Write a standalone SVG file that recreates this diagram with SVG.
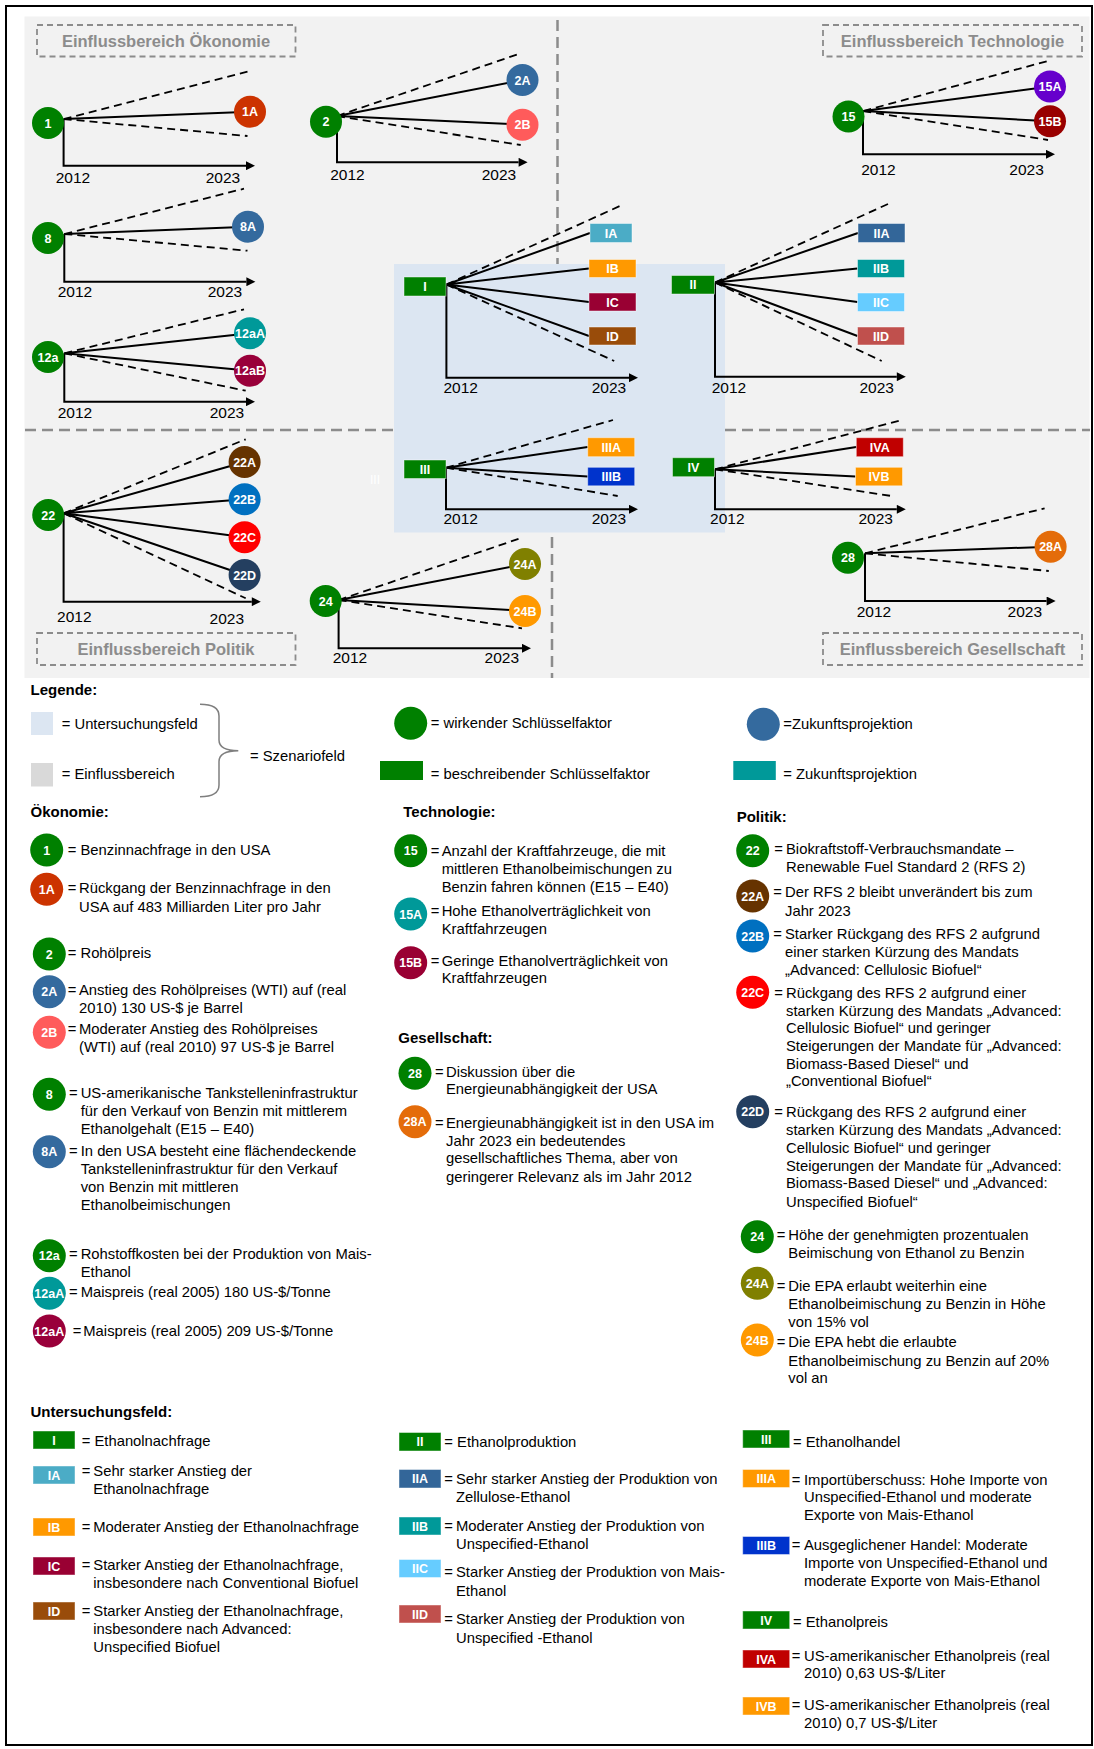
<svg xmlns="http://www.w3.org/2000/svg" width="1094" height="1749" viewBox="0 0 1094 1749">
<style>
  text { font-family: "Liberation Sans", Arial, sans-serif; }
  .ax { stroke:#000; stroke-width:2; fill:none; }
  .sol { stroke:#000; stroke-width:2; fill:none; }
  .dash { stroke:#000; stroke-width:1.8; stroke-dasharray:8 5; fill:none; }
  .div { stroke:#8c8c8c; stroke-width:2.5; stroke-dasharray:11 6; fill:none; }
  .zone { fill:none; stroke:#8c8c8c; stroke-width:1.8; stroke-dasharray:6 4; }
  .zt { font-size:16.5px; font-weight:bold; fill:#8c8c8c; text-anchor:middle; }
  .yr { font-size:15.5px; fill:#000; text-anchor:middle; }
  .nl { font-size:12.5px; font-weight:bold; fill:#fff; text-anchor:middle; }
  .t { font-size:14.8px; fill:#000; }
  .hd { font-size:15px; font-weight:bold; fill:#000; }
  .box { stroke:#fff; stroke-opacity:0.45; stroke-width:1; }
</style>
<defs>
  <marker id="arrow" viewBox="0 0 10 10" refX="0" refY="5" markerWidth="10" markerHeight="9" markerUnits="userSpaceOnUse" orient="auto">
    <path d="M0,0 L10,5 L0,10 z" fill="#000"/>
  </marker>
</defs>

<!-- frame and background fields -->
<rect x="6" y="6" width="1086" height="1739" fill="#fff" stroke="#000" stroke-width="2"/>
<rect x="24.5" y="16.5" width="1065" height="661.5" fill="#f2f2f2"/>
<rect x="394" y="264" width="331" height="268.5" fill="#dce6f2"/>

<!-- field dividers -->
<g id="dividers">
  <line class="div" x1="25" y1="430" x2="394" y2="430"/>
  <line class="div" x1="725" y1="430" x2="1090" y2="430"/>
  <line class="div" x1="557.5" y1="20" x2="557.5" y2="264"/>
  <line class="div" x1="552" y1="537" x2="552" y2="678"/>
</g>

<!-- influence area labels -->
<g id="zone-oekonomie"><rect class="zone" x="37" y="25" width="258.5" height="31.5"/><text class="zt" x="166" y="46.5">Einflussbereich Ökonomie</text></g>
<g id="zone-technologie"><rect class="zone" x="823" y="25" width="259" height="31.5"/><text class="zt" x="952.5" y="46.5">Einflussbereich Technologie</text></g>
<g id="zone-politik"><rect class="zone" x="37" y="633" width="258.5" height="32"/><text class="zt" x="166" y="654.5">Einflussbereich Politik</text></g>
<g id="zone-gesellschaft"><rect class="zone" x="823" y="633" width="259" height="32"/><text class="zt" x="952.5" y="654.5">Einflussbereich Gesellschaft</text></g>

<!-- connectors: time axes, corridor bounds and projection lines -->
<g id="connectors">
  <!-- 1 -->
  <path class="ax" d="M63.6,119 V165.7 H246" marker-end="url(#arrow)"/>
  <path class="dash" d="M63.6,119 L247.5,71.7 M63.6,119 L247.5,136"/>
  <path class="sol" d="M63.6,119 L250,111.7"/>
  <!-- 2 -->
  <path class="ax" d="M337,116 V162.3 H518.6" marker-end="url(#arrow)"/>
  <path class="dash" d="M337,116 L520.7,53.3 M337,116 L520.7,145"/>
  <path class="sol" d="M337,116 L522.5,80 M337,116 L522.5,124.7"/>
  <!-- 8 -->
  <path class="ax" d="M64.3,234 V281.7 H246.4" marker-end="url(#arrow)"/>
  <path class="dash" d="M64.3,234 L244,188.7 M64.3,234 L247.5,250.7"/>
  <path class="sol" d="M64.3,234 L248,226.7"/>
  <!-- 12a -->
  <path class="ax" d="M64.3,353.3 V401.7 H246" marker-end="url(#arrow)"/>
  <path class="dash" d="M64.3,353.3 L244,309.3 M64.3,353.3 L245.7,390.7"/>
  <path class="sol" d="M64.3,353.3 L250,333.3 M64.3,353.3 L250,370.7"/>
  <!-- 15 -->
  <path class="ax" d="M863,111 V154.3 H1046" marker-end="url(#arrow)"/>
  <path class="dash" d="M863.3,111 L1048.8,60.7 M863.3,111 L1048,140"/>
  <path class="sol" d="M863.3,111 L1050,86.5 M863.3,111 L1050,121.3"/>
  <!-- I -->
  <path class="ax" d="M446.4,284.5 V377.7 H629" marker-end="url(#arrow)"/>
  <path class="dash" d="M446.4,284.5 L620.6,205.7 M446.4,284.5 L614.2,361"/>
  <path class="sol" d="M446.4,284.5 L590,233 M446.4,284.5 L589,268.5 M446.4,284.5 L589,302 M446.4,284.5 L589,336"/>
  <!-- II -->
  <path class="ax" d="M715,282.5 V376.7 H896.8" marker-end="url(#arrow)"/>
  <path class="dash" d="M715,282.5 L888,204 M715,282.5 L881.7,361"/>
  <path class="sol" d="M715,282.5 L858,233 M715,282.5 L857.5,268.5 M715,282.5 L857.5,302 M715,282.5 L857.5,336"/>
  <!-- III -->
  <path class="ax" d="M446,467.7 V509.3 H629" marker-end="url(#arrow)"/>
  <path class="dash" d="M446,467.7 L613,420 M446,467.7 L617.7,496"/>
  <path class="sol" d="M446,467.7 L587.7,447 M446,467.7 L587.7,476.5"/>
  <!-- IV -->
  <path class="ax" d="M715,469.3 V509.3 H896.8" marker-end="url(#arrow)"/>
  <path class="dash" d="M715,469.3 L902,420 M715,469.3 L891.6,496"/>
  <path class="sol" d="M715,469.3 L856.3,447 M715,469.3 L855.5,476.5"/>
  <!-- 22 -->
  <path class="ax" d="M63.6,513.3 V601.7 H251.8" marker-end="url(#arrow)"/>
  <path class="dash" d="M63.6,513.3 L245.7,439.3 M63.6,513.3 L245.7,598.3"/>
  <path class="sol" d="M63.6,513.3 L244.6,462 M63.6,513.3 L244.6,499.3 M63.6,513.3 L244.6,537.3 M63.6,513.3 L244.6,575"/>
  <!-- 24 -->
  <path class="ax" d="M338.6,600 V648.3 H522" marker-end="url(#arrow)"/>
  <path class="dash" d="M338.6,600 L523.2,537.3 M338.6,600 L522,628.3"/>
  <path class="sol" d="M338.6,600 L525,564 M338.6,600 L525,611"/>
  <!-- 28 -->
  <path class="ax" d="M865,553.3 V601 H1046.6" marker-end="url(#arrow)"/>
  <path class="dash" d="M865,553.3 L1044.6,508.3 M865,553.3 L1048.8,571"/>
  <path class="sol" d="M865,553.3 L1050.6,546.7"/>
</g>

<!-- year labels -->
<g id="years">
  <text class="yr" x="73" y="183">2012</text><text class="yr" x="223" y="183">2023</text>
  <text class="yr" x="347.5" y="180">2012</text><text class="yr" x="499" y="180">2023</text>
  <text class="yr" x="75" y="297">2012</text><text class="yr" x="225" y="297">2023</text>
  <text class="yr" x="75" y="418">2012</text><text class="yr" x="227" y="418">2023</text>
  <text class="yr" x="878.5" y="175">2012</text><text class="yr" x="1026.6" y="175">2023</text>
  <text class="yr" x="460.7" y="393">2012</text><text class="yr" x="609" y="393">2023</text>
  <text class="yr" x="729" y="393">2012</text><text class="yr" x="876.7" y="393">2023</text>
  <text class="yr" x="460.7" y="524">2012</text><text class="yr" x="609" y="524">2023</text>
  <text class="yr" x="727.3" y="524">2012</text><text class="yr" x="875.7" y="524">2023</text>
  <text class="yr" x="74.3" y="622.3">2012</text><text class="yr" x="226.8" y="624">2023</text>
  <text class="yr" x="350" y="663.3">2012</text><text class="yr" x="501.8" y="663.3">2023</text>
  <text class="yr" x="874" y="617.3">2012</text><text class="yr" x="1024.8" y="617.3">2023</text>
</g>
<text x="375" y="484" font-size="12" fill="#fff" text-anchor="middle">III</text>

<!-- influencing key factors and projections -->
<g id="n1"><circle cx="48" cy="123" r="16" fill="#008000"/><text class="nl" x="48" y="127.5">1</text></g>
<g id="n1A"><circle cx="250" cy="111.7" r="16" fill="#cc3300"/><text class="nl" x="250" y="116.2">1A</text></g>
<g id="n2"><circle cx="326" cy="121.7" r="16" fill="#008000"/><text class="nl" x="326" y="126.2">2</text></g>
<g id="n2A"><circle cx="522.5" cy="80" r="16" fill="#346a9e"/><text class="nl" x="522.5" y="84.5">2A</text></g>
<g id="n2B"><circle cx="522.5" cy="124.7" r="16" fill="#ff5b5b"/><text class="nl" x="522.5" y="129.2">2B</text></g>
<g id="n8"><circle cx="48" cy="238" r="16" fill="#008000"/><text class="nl" x="48" y="242.5">8</text></g>
<g id="n8A"><circle cx="248" cy="226.7" r="16" fill="#346a9e"/><text class="nl" x="248" y="231.2">8A</text></g>
<g id="n12a"><circle cx="48" cy="357" r="16" fill="#008000"/><text class="nl" x="48" y="361.5">12a</text></g>
<g id="n12aA"><circle cx="250" cy="333.3" r="16" fill="#009999"/><text class="nl" x="250" y="337.8">12aA</text></g>
<g id="n12aB"><circle cx="250" cy="370.7" r="16" fill="#99003a"/><text class="nl" x="250" y="375.2">12aB</text></g>
<g id="n15"><circle cx="848.5" cy="116.5" r="16" fill="#008000"/><text class="nl" x="848.5" y="121">15</text></g>
<g id="n15A"><circle cx="1050" cy="86.5" r="16" fill="#6600cc"/><text class="nl" x="1050" y="91">15A</text></g>
<g id="n15B"><circle cx="1050" cy="121.3" r="16" fill="#990000"/><text class="nl" x="1050" y="125.8">15B</text></g>
<g id="n22"><circle cx="48.2" cy="515" r="16" fill="#008000"/><text class="nl" x="48.2" y="519.5">22</text></g>
<g id="n22A"><circle cx="244.6" cy="462" r="16" fill="#663300"/><text class="nl" x="244.6" y="466.5">22A</text></g>
<g id="n22B"><circle cx="244.6" cy="499.3" r="16" fill="#0070c0"/><text class="nl" x="244.6" y="503.8">22B</text></g>
<g id="n22C"><circle cx="244.6" cy="537.3" r="16" fill="#ff0000"/><text class="nl" x="244.6" y="541.8">22C</text></g>
<g id="n22D"><circle cx="244.6" cy="575" r="16" fill="#243f60"/><text class="nl" x="244.6" y="579.5">22D</text></g>
<g id="n24"><circle cx="325.7" cy="601" r="16" fill="#008000"/><text class="nl" x="325.7" y="605.5">24</text></g>
<g id="n24A"><circle cx="525" cy="564" r="16" fill="#808000"/><text class="nl" x="525" y="568.5">24A</text></g>
<g id="n24B"><circle cx="525" cy="611" r="16" fill="#ff9900"/><text class="nl" x="525" y="615.5">24B</text></g>
<g id="n28"><circle cx="848" cy="557.7" r="16" fill="#008000"/><text class="nl" x="848" y="562.2">28</text></g>
<g id="n28A"><circle cx="1050.6" cy="546.7" r="16" fill="#e46c0a"/><text class="nl" x="1050.6" y="551.2">28A</text></g>

<!-- descriptive key factors and projections -->
<g id="nI"><rect class="box" x="404" y="277" width="42" height="19" fill="#008000"/><text class="nl" x="425" y="291">I</text></g>
<g id="nIA"><rect class="box" x="590" y="223.5" width="42" height="19" fill="#4bacc6"/><text class="nl" x="611" y="237.5">IA</text></g>
<g id="nIB"><rect class="box" x="589" y="259.5" width="47" height="18" fill="#ff9900"/><text class="nl" x="612.5" y="273">IB</text></g>
<g id="nIC"><rect class="box" x="589" y="293" width="47" height="18" fill="#990033"/><text class="nl" x="612.5" y="306.5">IC</text></g>
<g id="nID"><rect class="box" x="589" y="327" width="47" height="18" fill="#994c0a"/><text class="nl" x="612.5" y="340.5">ID</text></g>
<g id="nII"><rect class="box" x="671.5" y="275.5" width="43" height="18.5" fill="#008000"/><text class="nl" x="693" y="289.3">II</text></g>
<g id="nIIA"><rect class="box" x="858" y="223.5" width="47" height="19" fill="#336699"/><text class="nl" x="881.5" y="237.5">IIA</text></g>
<g id="nIIB"><rect class="box" x="857.5" y="259.5" width="47" height="18" fill="#009999"/><text class="nl" x="881" y="273">IIB</text></g>
<g id="nIIC"><rect class="box" x="857.5" y="293" width="47" height="18.5" fill="#66ccff"/><text class="nl" x="881" y="306.7">IIC</text></g>
<g id="nIID"><rect class="box" x="857.5" y="327" width="47" height="18" fill="#c0504d"/><text class="nl" x="881" y="340.5">IID</text></g>
<g id="nIII"><rect class="box" x="404" y="460" width="42" height="18.5" fill="#008000"/><text class="nl" x="425" y="473.7">III</text></g>
<g id="nIIIA"><rect class="box" x="587.7" y="437.7" width="47" height="19" fill="#ff9900"/><text class="nl" x="611.2" y="451.7">IIIA</text></g>
<g id="nIIIB"><rect class="box" x="587.7" y="467.3" width="47" height="18.5" fill="#0033cc"/><text class="nl" x="611.2" y="481">IIIB</text></g>
<g id="nIV"><rect class="box" x="672.5" y="457.7" width="42" height="19" fill="#008000"/><text class="nl" x="693.5" y="471.7">IV</text></g>
<g id="nIVA"><rect class="box" x="856.3" y="437.7" width="47" height="19" fill="#c00000"/><text class="nl" x="879.8" y="451.7">IVA</text></g>
<g id="nIVB"><rect class="box" x="855.5" y="467.3" width="47" height="18.5" fill="#ff9900"/><text class="nl" x="879" y="481">IVB</text></g>

<!-- legend -->
<g id="legend">
  <text class="hd" x="30.5" y="695">Legende:</text>
  <rect x="31" y="712" width="22" height="23" fill="#dce6f2"/>
  <text class="t" x="61.7" y="729.3">= Untersuchungsfeld</text>
  <rect x="31" y="763" width="22" height="23.5" fill="#d9d9d9"/>
  <text class="t" x="61.7" y="779.3">= Einflussbereich</text>
  <path d="M200,704.3 Q219,704.3 219,716 L219,740 Q219,750.7 238.3,750.7 Q219,750.7 219,761.5 L219,785 Q219,796.7 200,796.7" fill="none" stroke="#7f7f7f" stroke-width="1.5"/>
  <text class="t" x="250" y="761">= Szenariofeld</text>

  <circle cx="410.7" cy="723.3" r="16.5" fill="#008000"/>
  <text class="t" x="430.7" y="728.3">= wirkender Schlüsselfaktor</text>
  <rect x="380" y="761" width="43" height="19" fill="#008000"/>
  <text class="t" x="430.7" y="779.3">= beschreibender Schlüsselfaktor</text>
  <circle cx="763.3" cy="724.3" r="16.5" fill="#346a9e"/>
  <text class="t" x="783.3" y="729.3">=Zukunftsprojektion</text>
  <rect x="733.3" y="761" width="42.5" height="19" fill="#009999"/>
  <text class="t" x="783.3" y="779.3">= Zukunftsprojektion</text>
</g>

<!-- Ökonomie -->
<g id="legend-oekonomie">
  <text class="hd" x="30.5" y="816.7">Ökonomie:</text>
  <g id="l1"><circle cx="46.7" cy="850" r="16.5" fill="#008000"/><text class="nl" x="46.7" y="854.5">1</text>
    <text class="t" x="67.7" y="855">= Benzinnachfrage in den USA</text></g>
  <g id="l1A"><circle cx="46.7" cy="889.3" r="16.5" fill="#cc3300"/><text class="nl" x="46.7" y="893.8">1A</text>
    <text class="t" x="67.7" y="893.3">=</text>
    <text class="t"><tspan x="79" y="893.3">Rückgang der Benzinnachfrage  in den</tspan><tspan x="79" y="911.7">USA auf  483  Milliarden Liter  pro Jahr</tspan></text></g>
  <g id="l2"><circle cx="49.3" cy="954" r="16.5" fill="#008000"/><text class="nl" x="49.3" y="958.5">2</text>
    <text class="t" x="67.7" y="958.3">= Rohölpreis</text></g>
  <g id="l2A"><circle cx="49.3" cy="991.7" r="16.5" fill="#346a9e"/><text class="nl" x="49.3" y="996.2">2A</text>
    <text class="t" x="67.7" y="995">=</text>
    <text class="t"><tspan x="79" y="995">Anstieg des Rohölpreises (WTI) auf (real</tspan><tspan x="79" y="1012.7">2010) 130 US-$ je Barrel</tspan></text></g>
  <g id="l2B"><circle cx="49.3" cy="1032.3" r="16.5" fill="#ff5b5b"/><text class="nl" x="49.3" y="1036.8">2B</text>
    <text class="t" x="67.7" y="1034">=</text>
    <text class="t"><tspan x="79" y="1034">Moderater Anstieg des Rohölpreises</tspan><tspan x="79" y="1051.7">(WTI) auf (real 2010) 97 US-$ je Barrel</tspan></text></g>
  <g id="l8"><circle cx="49.3" cy="1094.3" r="16.5" fill="#008000"/><text class="nl" x="49.3" y="1098.8">8</text>
    <text class="t" x="69" y="1098.3">=</text>
    <text class="t"><tspan x="80.7" y="1098.3">US-amerikanische Tankstelleninfrastruktur</tspan><tspan x="80.7" y="1116">für den Verkauf von Benzin mit mittlerem</tspan><tspan x="80.7" y="1134">Ethanolgehalt (E15 – E40)</tspan></text></g>
  <g id="l8A"><circle cx="49.3" cy="1151.7" r="16.5" fill="#346a9e"/><text class="nl" x="49.3" y="1156.2">8A</text>
    <text class="t" x="69" y="1156">=</text>
    <text class="t"><tspan x="80.7" y="1156">In den USA besteht eine flächendeckende</tspan><tspan x="80.7" y="1174">Tankstelleninfrastruktur  für den Verkauf</tspan><tspan x="80.7" y="1191.7">von Benzin mit mittleren</tspan><tspan x="80.7" y="1210">Ethanolbeimischungen</tspan></text></g>
  <g id="l12a"><circle cx="49.3" cy="1255.7" r="16.5" fill="#008000"/><text class="nl" x="49.3" y="1260.2">12a</text>
    <text class="t" x="69" y="1259">=</text>
    <text class="t"><tspan x="80.7" y="1259">Rohstoffkosten bei der Produktion von Mais-</tspan><tspan x="80.7" y="1276.7">Ethanol</tspan></text></g>
  <g id="l12aA"><circle cx="49.3" cy="1293.3" r="16.5" fill="#009999"/><text class="nl" x="49.3" y="1297.8">12aA</text>
    <text class="t" x="69" y="1297.3">=</text><text class="t" x="80.7" y="1297.3">Maispreis (real  2005) 180 US-$/Tonne</text></g>
  <g id="l12aA-2"><circle cx="49.3" cy="1331" r="16.5" fill="#99003a"/><text class="nl" x="49.3" y="1335.5">12aA</text>
    <text class="t" x="72.7" y="1336">=</text><text class="t" x="83.3" y="1336">Maispreis (real 2005) 209 US-$/Tonne</text></g>
</g>

<!-- Technologie / Gesellschaft -->
<g id="legend-technologie">
  <text class="hd" x="403.3" y="816.7">Technologie:</text>
  <g id="l15"><circle cx="410.7" cy="850.7" r="16.5" fill="#008000"/><text class="nl" x="410.7" y="855.2">15</text>
    <text class="t" x="430.7" y="855.7">=</text>
    <text class="t"><tspan x="441.7" y="855.7">Anzahl der Kraftfahrzeuge, die mit</tspan><tspan x="441.7" y="874">mittleren Ethanolbeimischungen zu</tspan><tspan x="441.7" y="891.7">Benzin fahren können (E15 – E40)</tspan></text></g>
  <g id="l15A"><circle cx="410.7" cy="914" r="16.5" fill="#009999"/><text class="nl" x="410.7" y="918.5">15A</text>
    <text class="t" x="430.7" y="916">=</text>
    <text class="t"><tspan x="441.7" y="916">Hohe Ethanolverträglichkeit von</tspan><tspan x="441.7" y="934">Kraftfahrzeugen</tspan></text></g>
  <g id="l15B"><circle cx="410.7" cy="962.7" r="16.5" fill="#990033"/><text class="nl" x="410.7" y="967.2">15B</text>
    <text class="t" x="430.7" y="965.7">=</text>
    <text class="t"><tspan x="441.7" y="965.7">Geringe Ethanolverträglichkeit von</tspan><tspan x="441.7" y="983.3">Kraftfahrzeugen</tspan></text></g>
</g>
<g id="legend-gesellschaft">
  <text class="hd" x="398.3" y="1043.3">Gesellschaft:</text>
  <g id="l28"><circle cx="415" cy="1073.3" r="16.5" fill="#008000"/><text class="nl" x="415" y="1077.8">28</text>
    <text class="t" x="435" y="1076.7">=</text>
    <text class="t"><tspan x="446" y="1076.7">Diskussion über die</tspan><tspan x="446" y="1094.3">Energieunabhängigkeit der USA</tspan></text></g>
  <g id="l28A"><circle cx="415" cy="1121.7" r="16.5" fill="#e46c0a"/><text class="nl" x="415" y="1126.2">28A</text>
    <text class="t" x="435" y="1127.7">=</text>
    <text class="t"><tspan x="446" y="1127.7">Energieunabhängigkeit ist in den USA im</tspan><tspan x="446" y="1146">Jahr 2023 ein bedeutendes</tspan><tspan x="446" y="1163.3">gesellschaftliches Thema, aber von</tspan><tspan x="446" y="1181.7">geringerer Relevanz als im Jahr 2012</tspan></text></g>
</g>

<!-- Politik -->
<g id="legend-politik">
  <text class="hd" x="736.7" y="822">Politik:</text>
  <g id="l22"><circle cx="752.7" cy="850.7" r="16.5" fill="#008000"/><text class="nl" x="752.7" y="855.2">22</text>
    <text class="t" x="774.3" y="854">=</text>
    <text class="t"><tspan x="786" y="854">Biokraftstoff-Verbrauchsmandate –</tspan><tspan x="786" y="872.3">Renewable Fuel Standard 2 (RFS 2)</tspan></text></g>
  <g id="l22A"><circle cx="752.7" cy="896" r="16.5" fill="#663300"/><text class="nl" x="752.7" y="900.5">22A</text>
    <text class="t" x="773.3" y="897.3">=</text>
    <text class="t"><tspan x="785" y="897.3">Der RFS 2 bleibt unverändert bis zum</tspan><tspan x="785" y="915.7">Jahr 2023</tspan></text></g>
  <g id="l22B"><circle cx="752.7" cy="936" r="16.5" fill="#0070c0"/><text class="nl" x="752.7" y="940.5">22B</text>
    <text class="t" x="773.3" y="939">=</text>
    <text class="t"><tspan x="785" y="939">Starker Rückgang des RFS 2 aufgrund</tspan><tspan x="785" y="957.3">einer starken  Kürzung  des Mandats</tspan><tspan x="785" y="975">„Advanced: Cellulosic Biofuel“</tspan></text></g>
  <g id="l22C"><circle cx="752.7" cy="992.3" r="16.5" fill="#ff0000"/><text class="nl" x="752.7" y="996.8">22C</text>
    <text class="t" x="774.3" y="997.7">=</text>
    <text class="t"><tspan x="786" y="997.7">Rückgang des RFS 2 aufgrund einer</tspan><tspan x="786" y="1015.5">starken  Kürzung  des Mandats „Advanced:</tspan><tspan x="786" y="1033.3">Cellulosic Biofuel“ und  geringer</tspan><tspan x="786" y="1051">Steigerungen der Mandate  für „Advanced:</tspan><tspan x="786" y="1068.5">Biomass-Based Diesel“ und</tspan><tspan x="786" y="1086">„Conventional Biofuel“</tspan></text></g>
  <g id="l22D"><circle cx="752.7" cy="1111.7" r="16.5" fill="#243f60"/><text class="nl" x="752.7" y="1116.2">22D</text>
    <text class="t" x="774.3" y="1116.7">=</text>
    <text class="t"><tspan x="786" y="1116.7">Rückgang des RFS 2 aufgrund einer</tspan><tspan x="786" y="1135">starken  Kürzung  des Mandats „Advanced:</tspan><tspan x="786" y="1152.7">Cellulosic Biofuel“ und  geringer</tspan><tspan x="786" y="1171">Steigerungen der Mandate  für „Advanced:</tspan><tspan x="786" y="1188.3">Biomass-Based Diesel“ und „Advanced:</tspan><tspan x="786" y="1206.7">Unspecified Biofuel“</tspan></text></g>
  <g id="l24"><circle cx="757.3" cy="1236.7" r="16.5" fill="#008000"/><text class="nl" x="757.3" y="1241.2">24</text>
    <text class="t" x="776.7" y="1240">=</text>
    <text class="t"><tspan x="788.3" y="1240">Höhe der genehmigten prozentualen</tspan><tspan x="788.3" y="1258.3">Beimischung von Ethanol zu Benzin</tspan></text></g>
  <g id="l24A"><circle cx="757.3" cy="1283.3" r="16.5" fill="#808000"/><text class="nl" x="757.3" y="1287.8">24A</text>
    <text class="t" x="776.7" y="1290.7">=</text>
    <text class="t"><tspan x="788.3" y="1290.7">Die EPA erlaubt weiterhin eine</tspan><tspan x="788.3" y="1309">Ethanolbeimischung zu Benzin in Höhe</tspan><tspan x="788.3" y="1326.7">von 15% vol</tspan></text></g>
  <g id="l24B"><circle cx="757.3" cy="1340" r="16.5" fill="#ff9900"/><text class="nl" x="757.3" y="1344.5">24B</text>
    <text class="t" x="776.7" y="1347.3">=</text>
    <text class="t"><tspan x="788.3" y="1347.3">Die EPA hebt die erlaubte</tspan><tspan x="788.3" y="1366">Ethanolbeimischung zu Benzin auf 20%</tspan><tspan x="788.3" y="1383.3">vol an</tspan></text></g>
</g>

<!-- Untersuchungsfeld -->
<g id="legend-untersuchungsfeld">
  <text class="hd" x="30.5" y="1416.7">Untersuchungsfeld:</text>
  <g id="lI"><rect class="box" x="33" y="1431" width="42" height="18" fill="#008000"/><text class="nl" x="54" y="1444.5">I</text>
    <text class="t" x="81.7" y="1446">= Ethanolnachfrage</text></g>
  <g id="lIA"><rect class="box" x="33" y="1466" width="42" height="18" fill="#4bacc6"/><text class="nl" x="54" y="1479.5">IA</text>
    <text class="t" x="81.7" y="1476">=</text>
    <text class="t"><tspan x="93.3" y="1476">Sehr starker Anstieg der</tspan><tspan x="93.3" y="1494.3">Ethanolnachfrage</tspan></text></g>
  <g id="lIB"><rect class="box" x="33" y="1518" width="42" height="18" fill="#ff9900"/><text class="nl" x="54" y="1531.5">IB</text>
    <text class="t" x="81.7" y="1531.7">=</text><text class="t" x="93.3" y="1531.7">Moderater Anstieg der Ethanolnachfrage</text></g>
  <g id="lIC"><rect class="box" x="33" y="1557" width="42" height="18" fill="#990033"/><text class="nl" x="54" y="1570.5">IC</text>
    <text class="t" x="81.7" y="1570">=</text>
    <text class="t"><tspan x="93.3" y="1570">Starker Anstieg der Ethanolnachfrage,</tspan><tspan x="93.3" y="1587.7">insbesondere nach Conventional Biofuel</tspan></text></g>
  <g id="lID"><rect class="box" x="33" y="1602" width="42" height="18" fill="#994c0a"/><text class="nl" x="54" y="1615.5">ID</text>
    <text class="t" x="81.7" y="1616">=</text>
    <text class="t"><tspan x="93.3" y="1616">Starker Anstieg der Ethanolnachfrage,</tspan><tspan x="93.3" y="1634.3">insbesondere nach Advanced:</tspan><tspan x="93.3" y="1652.3">Unspecified Biofuel</tspan></text></g>

  <g id="lII"><rect class="box" x="399" y="1432.5" width="42" height="18.5" fill="#008000"/><text class="nl" x="420" y="1446.2">II</text>
    <text class="t" x="444.3" y="1446.7">= Ethanolproduktion</text></g>
  <g id="lIIA"><rect class="box" x="399" y="1469.5" width="42" height="18.5" fill="#336699"/><text class="nl" x="420" y="1483.2">IIA</text>
    <text class="t" x="444.3" y="1484">=</text>
    <text class="t"><tspan x="456" y="1484">Sehr starker Anstieg der Produktion von</tspan><tspan x="456" y="1501.7">Zellulose-Ethanol</tspan></text></g>
  <g id="lIIB"><rect class="box" x="399" y="1517" width="42" height="18" fill="#009999"/><text class="nl" x="420" y="1530.5">IIB</text>
    <text class="t" x="444.3" y="1530.7">=</text>
    <text class="t"><tspan x="456" y="1530.7">Moderater Anstieg der Produktion von</tspan><tspan x="456" y="1549">Unspecified-Ethanol</tspan></text></g>
  <g id="lIIC"><rect class="box" x="399" y="1559.5" width="42" height="18" fill="#66ccff"/><text class="nl" x="420" y="1573">IIC</text>
    <text class="t" x="444.3" y="1577.3">=</text>
    <text class="t"><tspan x="456" y="1577.3">Starker Anstieg der Produktion von Mais-</tspan><tspan x="456" y="1595.7">Ethanol</tspan></text></g>
  <g id="lIID"><rect class="box" x="399" y="1605" width="42" height="18" fill="#c0504d"/><text class="nl" x="420" y="1618.5">IID</text>
    <text class="t" x="444.3" y="1624.3">=</text>
    <text class="t"><tspan x="456" y="1624.3">Starker Anstieg der Produktion von</tspan><tspan x="456" y="1642.7">Unspecified -Ethanol</tspan></text></g>

  <g id="lIII"><rect class="box" x="742.7" y="1430" width="47" height="18" fill="#008000"/><text class="nl" x="766.2" y="1443.5">III</text>
    <text class="t" x="793" y="1447">= Ethanolhandel</text></g>
  <g id="lIIIA"><rect class="box" x="742.7" y="1469.5" width="47" height="18" fill="#ff9900"/><text class="nl" x="766.2" y="1483">IIIA</text>
    <text class="t" x="791.8" y="1484.5">=</text>
    <text class="t"><tspan x="804" y="1484.5">Importüberschuss: Hohe Importe von</tspan><tspan x="804" y="1502">Unspecified-Ethanol und moderate</tspan><tspan x="804" y="1520">Exporte von Mais-Ethanol</tspan></text></g>
  <g id="lIIIB"><rect class="box" x="742.7" y="1536.5" width="47" height="18" fill="#0033cc"/><text class="nl" x="766.2" y="1550">IIIB</text>
    <text class="t" x="791.8" y="1550">=</text>
    <text class="t"><tspan x="804" y="1550">Ausgeglichener Handel: Moderate</tspan><tspan x="804" y="1568">Importe von Unspecified-Ethanol und</tspan><tspan x="804" y="1586">moderate Exporte von Mais-Ethanol</tspan></text></g>
  <g id="lIV"><rect class="box" x="742.7" y="1611" width="47" height="18" fill="#008000"/><text class="nl" x="766.2" y="1624.5">IV</text>
    <text class="t" x="793" y="1627">= Ethanolpreis</text></g>
  <g id="lIVA"><rect class="box" x="742.7" y="1650" width="47" height="18" fill="#c00000"/><text class="nl" x="766.2" y="1663.5">IVA</text>
    <text class="t" x="791.8" y="1660.5">=</text>
    <text class="t"><tspan x="804" y="1660.5">US-amerikanischer Ethanolpreis (real</tspan><tspan x="804" y="1678">2010) 0,63 US-$/Liter</tspan></text></g>
  <g id="lIVB"><rect class="box" x="742.7" y="1697" width="47" height="18" fill="#ff9900"/><text class="nl" x="766.2" y="1710.5">IVB</text>
    <text class="t" x="791.8" y="1709.6">=</text>
    <text class="t"><tspan x="804" y="1709.6">US-amerikanischer Ethanolpreis (real</tspan><tspan x="804" y="1727.5">2010) 0,7 US-$/Liter</tspan></text></g>
</g>
</svg>
